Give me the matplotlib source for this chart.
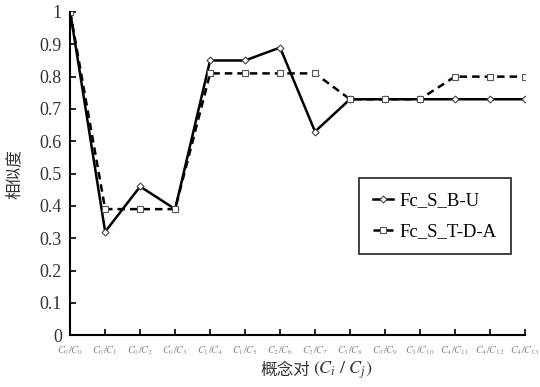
import numpy as np
import matplotlib
matplotlib.use('Agg')
import matplotlib.pyplot as plt

plt.rcParams['font.family'] = ['Liberation Serif', 'Noto Sans CJK SC']
plt.rcParams['mathtext.fontset'] = 'stix'

# Concept pairs (Ci / Cj)
pairs = [(0, 0), (0, 1), (0, 2), (0, 3), (1, 4), (1, 5), (2, 6), (2, 7),
         (3, 8), (3, 9), (3, 10), (4, 11), (4, 12), (4, 13)]
tick_labels = [r'$C_{%d}/C_{%d}$' % p for p in pairs]

# Similarity values
fc_s_bu = [1.0, 0.32, 0.46, 0.39, 0.85, 0.85, 0.89, 0.63,
           0.73, 0.73, 0.73, 0.73, 0.73, 0.73]
fc_s_tda = [1.0, 0.39, 0.39, 0.39, 0.81, 0.81, 0.81, 0.81,
            0.73, 0.73, 0.73, 0.80, 0.80, 0.80]

x = np.arange(len(pairs))

fig = plt.figure(figsize=(5.4, 3.87), dpi=100)
ax = fig.add_axes([0.130, 0.134, 0.842, 0.835])

ax.plot(x, fc_s_bu, '-', color='black', lw=1.8, marker='D', ms=3.5,
        mfc='white', mec='#444444', mew=0.8, label='Fc_S_B-U')
ax.plot(x, fc_s_tda, '--', color='black', lw=1.8, dashes=(3, 2), marker='s', ms=4.5,
        mfc='white', mec='#555555', mew=0.8, label='Fc_S_T-D-A')

ax.set_xlim(0, 13)
ax.set_ylim(0, 1)
ax.set_yticks(np.arange(0, 1.01, 0.1))
ax.set_yticklabels(['0', '0.1', '0.2', '0.3', '0.4', '0.5', '0.6', '0.7',
                    '0.8', '0.9', '1'])
ax.set_xticks(x)
ax.set_xticklabels(tick_labels, fontsize=7.5, color='#888888')
ax.tick_params(axis='y', direction='in', length=4, width=1.2, labelsize=13,
               pad=6, colors='black', labelcolor='#333333')
ax.tick_params(axis='x', direction='in', length=4, width=1.2, pad=7)

for s in ['top', 'right']:
    ax.spines[s].set_visible(False)
for s in ['left', 'bottom']:
    ax.spines[s].set_linewidth(1.5)

# x label: CJK part and math part side by side
fig.text(0.575, 0.044, '概念对', fontsize=12, color='#333333',
         family='Noto Sans CJK SC', ha='right', va='center')
fig.text(0.580, 0.044, r'$(C_i\ /\ C_j)$', fontsize=13, color='#333333',
         ha='left', va='center')
ax.set_ylabel('相似度', fontsize=12, color='#333333', labelpad=12)

leg = ax.legend(loc='center right', bbox_to_anchor=(0.99, 0.368), fontsize=13.5,
                frameon=True, fancybox=False, edgecolor='black',
                handlelength=1.1, handletextpad=0.35, borderpad=0.75,
                labelspacing=0.75)
leg.get_frame().set_linewidth(1.3)

fig.savefig('out.png', dpi=100)
